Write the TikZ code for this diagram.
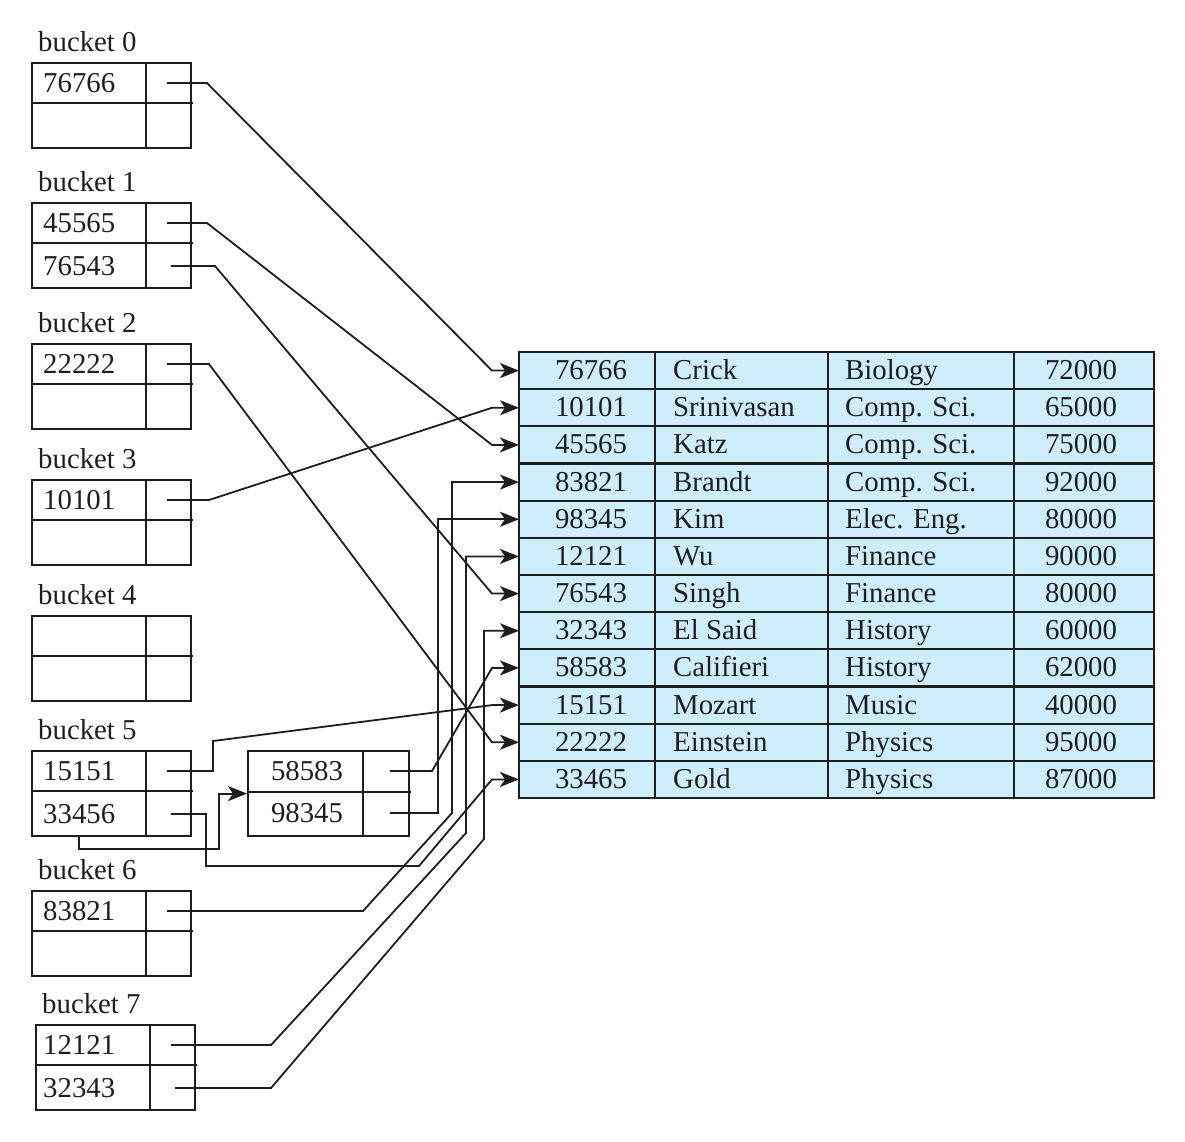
\documentclass[tikz,border=0pt]{standalone}
\usepackage{fontspec}
\setmainfont{Liberation Serif}
\usetikzlibrary{arrows.meta}
\definecolor{tblue}{RGB}{207,238,251}
\definecolor{ink}{RGB}{30,30,30}
\tikzset{
  box/.style={draw=ink, line width=2.2pt},
  ptr/.style={draw=ink, line width=1.8pt, line join=miter, -{Stealth[length=19pt,width=15pt,inset=5pt]}},
  lbl/.style={anchor=base west, inner sep=0pt, text=ink},
  val/.style={anchor=base west, inner sep=0pt, text=ink},
  cval/.style={anchor=base, inner sep=0pt, text=ink},
  rowbox/.style={fill=tblue, minimum width=635pt, minimum height=37.1667pt, inner sep=0pt, outer sep=0pt, anchor=north west},
  bucketbox/.style={draw=ink, line width=2.2pt, minimum width=159pt, minimum height=85pt, inner sep=0pt, anchor=north west}
}
% #1 name, #2 left x, #3 top y, #4 label, #5 value 1, #6 value 2, #7 text indent
\newcommand\mkbucket[7]{%
  \node[bucketbox] (#1) at (#2,#3) {};
  \draw[box] (#2+115,#3) -- ++(0,85);
  \draw[box] (#2,#3+41) -- ++(162,0);
  \node[lbl] (#1l) at (#2+7,#3-11) {#4};
  \node[val] (#1a) at (#2+#7,#3+30) {#5};
  \node[val] (#1b) at (#2+#7,#3+73) {#6};
  \coordinate (#1p) at (#2+136,#3+21);
  \coordinate (#1q) at (#2+140,#3+64);
}
\begin{document}
\begin{tikzpicture}[x=1pt,y=-1pt,font=\fontsize{28.8}{34}\selectfont]
\useasboundingbox (0,0) rectangle (1185,1141);

% buckets
\mkbucket{b0}{31}{62}{bucket 0}{76766}{}{12}
\mkbucket{b1}{31}{202}{bucket 1}{45565}{76543}{12}
\mkbucket{b2}{31}{343}{bucket 2}{22222}{}{12}
\mkbucket{b3}{31}{479}{bucket 3}{10101}{}{12}
\mkbucket{b4}{31}{615}{bucket 4}{}{}{12}
\mkbucket{b5}{31}{750}{bucket 5}{15151}{33456}{12}
\mkbucket{b6}{31}{890}{bucket 6}{83821}{}{12}
\mkbucket{b7}{35}{1024}{bucket 7}{12121}{32343}{8}

% overflow bucket
\node[bucketbox, minimum width=161pt] (ov) at (247,750) {};
\draw[box] (363,750) -- (363,835);
\draw[box] (247,792) -- (411,792);
\node[cval] (ova) at (307,780) {58583};
\node[cval] (ovb) at (307,822) {98345};
\coordinate (ovp) at (390,771);
\coordinate (ovq) at (390,813);
\coordinate (b5bot) at (79,835);

% table
\foreach \i/\vid/\vnm/\vdept/\vsal in {
  1/76766/Crick/Biology/72000,
  2/10101/Srinivasan/Comp. Sci./65000,
  3/45565/Katz/Comp. Sci./75000,
  4/83821/Brandt/Comp. Sci./92000,
  5/98345/Kim/Elec. Eng./80000,
  6/12121/Wu/Finance/90000,
  7/76543/Singh/Finance/80000,
  8/32343/El Said/History/60000,
  9/58583/Califieri/History/62000,
  10/15151/Mozart/Music/40000,
  11/22222/Einstein/Physics/95000,
  12/33465/Gold/Physics/87000}{
  \node[rowbox] (r\i) at (519,{352+(\i-1)*37.1667}) {};
  \node[cval] (id\i) at (591,{352+(\i-0.5)*37.1667+9}) {\vid};
  \node[val] (nm\i) at (673,{352+(\i-0.5)*37.1667+9}) {\vnm};
  \node[val] (dp\i) at (845,{352+(\i-0.5)*37.1667+9}) {\vdept};
  \node[cval] (sal\i) at (1081,{352+(\i-0.5)*37.1667+9}) {\vsal};
}
\foreach \i in {1,...,11}{
  \draw[box] (519,{352+\i*37.1667}) -- (1154,{352+\i*37.1667});
}
\draw[box] (655,352) -- (655,798);
\draw[box] (828,352) -- (828,798);
\draw[box] (1014,352) -- (1014,798);
\draw[box] (519,352) rectangle (1154,798);

% pointers
\draw[ptr] (b0p) -- ++(40,0) -- ([xshift=-27pt]r1.west) -- (r1.west);
\draw[ptr] (b1p) -- ++(40,0) -- ([xshift=-27pt]r3.west) -- (r3.west);
\draw[ptr] (b1q) -- ++(44,0) -- ([xshift=-27pt]r7.west) -- (r7.west);
\draw[ptr] (b2p) -- ++(42,0) -- ([xshift=-27pt]r11.west) -- (r11.west);
\draw[ptr] (b3p) -- ++(42,0) -- ([xshift=-27pt]r2.west) -- (r2.west);
\draw[ptr] (b5p) -- ++(46,0) -- ++(0,-30) -- ([xshift=-27pt]r10.west) -- (r10.west);
\draw[ptr] (b5q) -- (206,814) -- (206,866) -- (419,866) -- ([xshift=-27pt]r12.west) -- (r12.west);
\draw[ptr] (b5bot) -- (79,849) -- (219,849) |- (ov.west);
\draw[ptr] (ovp) -- (432,771) -- ([xshift=-27pt]r9.west) -- (r9.west);
\draw[ptr] (ovq) -- (438,813) |- (r5.west);
\draw[ptr] (b6p) -- (363,911) -- (452,813) |- (r4.west);
\draw[ptr] (b7p) -- (271,1045) -- (466,833) |- (r6.west);
\draw[ptr] (b7q) -- (271,1088) -- (484,839) |- (r8.west);
\end{tikzpicture}
\end{document}
